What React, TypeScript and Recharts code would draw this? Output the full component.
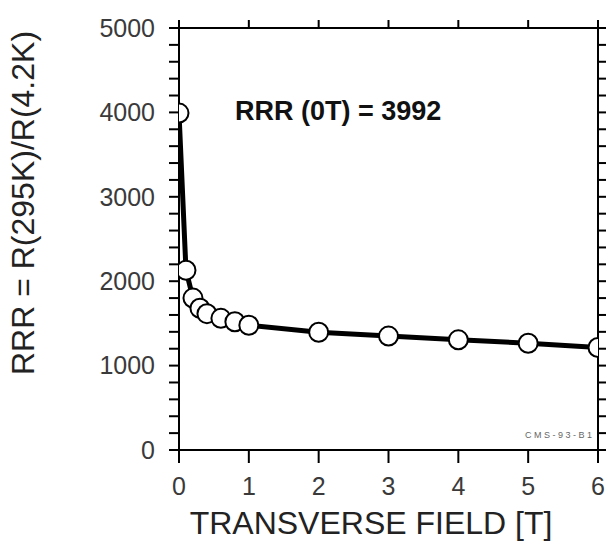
import { LineChart, Line, XAxis, YAxis } from 'recharts'

const fieldT = [0, 0.1, 0.2, 0.3, 0.4, 0.6, 0.8, 1, 2, 3, 4, 5, 6]
const rrrValues = [3992, 2130, 1800, 1680, 1615, 1560, 1520, 1478, 1395, 1350, 1305, 1265, 1215]

const xTicks = [0, 1, 2, 3, 4, 5, 6]
const yMajorTicks = [0, 1000, 2000, 3000, 4000, 5000]
const yTicks = [
  0, 200, 400, 600, 800, 1000, 1200, 1400, 1600, 1800, 2000, 2200, 2400, 2600, 2800, 3000,
  3200, 3400, 3600, 3800, 4000, 4200, 4400, 4600, 4800, 5000,
]

const data = fieldT.map((f, i) => ({ field: f, rrr: rrrValues[i] }))

const FONT = '"Liberation Sans", Arial, sans-serif'
const tickFont = { fontSize: 25, fill: '#3a3a3a', fontFamily: FONT }
const blackLine = { stroke: '#000', strokeWidth: 2 }

export default function App() {
  return (
    <div style={{ position: 'absolute', left: 0, top: 0, width: 611, height: 546 }}>
      <LineChart width={611} height={546} data={data} margin={{ top: 0, right: 0, left: 0, bottom: 0 }}>
        <XAxis
          dataKey="field"
          type="number"
          domain={[0, 6]}
          ticks={xTicks}
          interval={0}
          allowDataOverflow
          height={96}
          tickSize={13}
          tickMargin={14}
          tickLine={blackLine}
          axisLine={blackLine}
          tick={tickFont}
          label={{
            content: ({ viewBox }: any) => (
              <text x={371} y={viewBox.y + 84} textAnchor="middle" fontSize={32} fill="#222" fontFamily={FONT}>
                TRANSVERSE FIELD [T]
              </text>
            ),
          }}
        />
        <XAxis
          xAxisId="top"
          dataKey="field"
          orientation="top"
          type="number"
          domain={[0, 6]}
          ticks={xTicks}
          interval={0}
          allowDataOverflow
          height={28}
          tickSize={8}
          tickMargin={0}
          tickLine={blackLine}
          axisLine={blackLine}
          tickFormatter={() => ''}
        />
        <YAxis
          type="number"
          domain={[0, 5000]}
          ticks={yTicks}
          interval={0}
          allowDataOverflow
          width={179}
          tickSize={10}
          tickMargin={14}
          tickLine={blackLine}
          axisLine={blackLine}
          tick={tickFont}
          tickFormatter={(v: number) => (yMajorTicks.includes(v) ? String(v) : '')}
          label={{
            content: () => (
              <text
                x={0}
                y={0}
                transform="translate(34, 203) rotate(-90)"
                textAnchor="middle"
                fontSize={32}
                fill="#222"
                fontFamily={FONT}
              >
                RRR = R(295K)/R(4.2K)
              </text>
            ),
          }}
        />
        <YAxis
          yAxisId="right"
          orientation="right"
          type="number"
          domain={[0, 5000]}
          ticks={yTicks}
          interval={0}
          allowDataOverflow
          width={13}
          tickSize={8}
          tickMargin={0}
          tickLine={blackLine}
          axisLine={blackLine}
          tickFormatter={() => ''}
        />
        <Line
          xAxisId="top"
          yAxisId="right"
          type="linear"
          dataKey="rrr"
          stroke="none"
          dot={false}
          activeDot={false}
          isAnimationActive={false}
        />
        <Line
          type="linear"
          dataKey="rrr"
          stroke="#000"
          strokeWidth={5}
          dot={{ r: 9.5, fill: '#fff', stroke: '#000', strokeWidth: 2 }}
          isAnimationActive={false}
        />
      </LineChart>
      <div
        style={{
          position: 'absolute',
          left: 235,
          top: 96,
          fontFamily: FONT,
          fontWeight: 'bold',
          fontSize: 27,
          color: '#111',
          whiteSpace: 'nowrap',
        }}
      >
        RRR (0T) = 3992
      </div>
      <div
        style={{
          position: 'absolute',
          left: 525,
          top: 430,
          fontFamily: FONT,
          fontSize: 9,
          color: '#666',
          letterSpacing: 2.5,
          whiteSpace: 'nowrap',
        }}
      >
        CMS-93-B1
      </div>
    </div>
  )
}
